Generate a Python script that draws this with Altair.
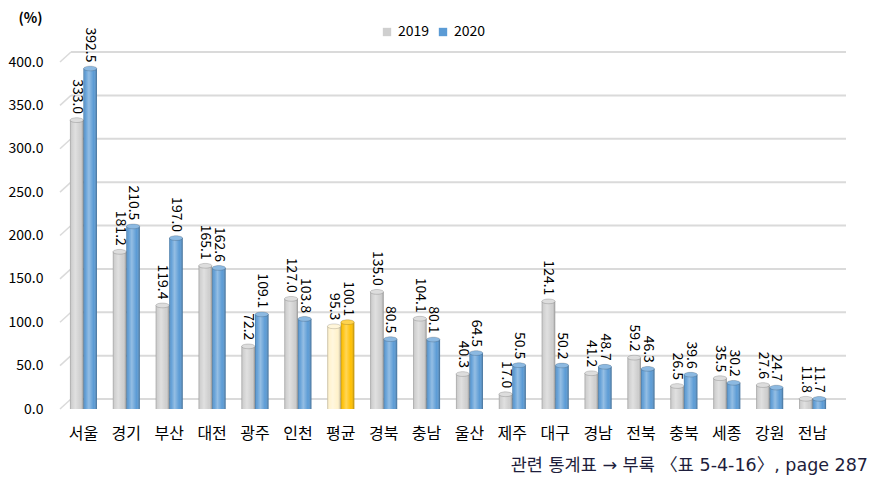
import altair as alt
import pandas as pd

regions = ["서울", "경기", "부산", "대전", "광주", "인천", "평균", "경북", "충남",
           "울산", "제주", "대구", "경남", "전북", "충북", "세종", "강원", "전남"]
v2019 = [333.0, 181.2, 119.4, 165.1, 72.2, 127.0, 95.3, 135.0, 104.1,
         40.3, 17.0, 124.1, 41.2, 59.2, 26.5, 35.5, 27.6, 11.8]
v2020 = [392.5, 210.5, 197.0, 162.6, 109.1, 103.8, 100.1, 80.5, 80.1,
         64.5, 50.5, 50.2, 48.7, 46.3, 39.6, 30.2, 24.7, 11.7]
years = ["2019", "2020"]
y_ticks = [0, 50, 100, 150, 200, 250, 300, 350, 400]
footer = "관련 통계표 → 부록 〈표 5-4-16〉, page 287"

rows = []
for r, a, b in zip(regions, v2019, v2020):
    for yr, v in zip(years, [a, b]):
        key = ("평균" + yr) if r == "평균" else yr
        rows.append({"region": r, "year": yr, "value": v, "key": key})
df = pd.DataFrame(rows)
grid_df = pd.DataFrame({"v": y_ticks})

FONT = "Noto Sans CJK KR"
ELLIPSE = "M -1 0 A 1 0.36 0 1 0 1 0 A 1 0.36 0 1 0 -1 0 Z"

x_enc = alt.X("region:N", sort=regions,
              scale=alt.Scale(paddingInner=0.37, paddingOuter=0.185),
              axis=alt.Axis(title=None, labelAngle=0, ticks=False, domain=False,
                            labelFont=FONT, labelFontSize=16, labelColor="#000000",
                            labelPadding=16))
y_enc = alt.Y("value:Q", scale=alt.Scale(domain=[0, 400], nice=False),
              axis=alt.Axis(values=y_ticks, format=".1f", title="(%)",
                            titleAngle=0, titleX=-32, titleY=-44,
                            titleAlign="center", titleBaseline="middle",
                            titleFont=FONT, titleFontSize=14, titleFontWeight="bold",
                            titleColor="#000000",
                            labelFont=FONT, labelFontSize=14, labelColor="#000000",
                            labelPadding=19, ticks=False, domain=False, grid=False))
xo = alt.XOffset("year:N", sort=years, scale=alt.Scale(paddingInner=0, paddingOuter=0))
x_plain = alt.X("region:N", sort=regions)
xo_plain = alt.XOffset("year:N", sort=years)

color_enc = alt.Color("key:N",
                      scale=alt.Scale(domain=["2019", "2020", "평균2019", "평균2020"],
                                      range=["#cfcfcf", "#5b9bd5", "#fff2cc", "#ffc000"]),
                      legend=alt.Legend(values=["2019", "2020"], title=None,
                                        orient="none", direction="horizontal",
                                        legendX=318, legendY=-37,
                                        symbolType="square", symbolSize=70,
                                        symbolStrokeWidth=0,
                                        labelFont=FONT, labelFontSize=14,
                                        labelColor="#000000", columnPadding=6,
                                        symbolOffset=0))

base = alt.Chart(df)

grid_lines = alt.Chart(grid_df).mark_rule(color="#dadada", strokeWidth=2, yOffset=-10).encode(
    y=alt.Y("v:Q"), x=alt.value(9), x2=alt.value(784))
grid_diag = alt.Chart(grid_df).mark_rule(color="#dadada", strokeWidth=1.5, y2Offset=-10).encode(
    y=alt.Y("v:Q"), y2=alt.Y2("v"), x=alt.value(-2), x2=alt.value(9))

bars = base.mark_bar().encode(x=x_enc, y=y_enc, xOffset=xo, color=color_enc)

shade = base.mark_bar(
    fill=alt.Gradient(gradient="linear", x1=0, x2=1, y1=0, y2=0,
                      stops=[alt.GradientStop(offset=0, color="rgba(0,0,0,0.25)"),
                             alt.GradientStop(offset=0.15, color="rgba(255,255,255,0.05)"),
                             alt.GradientStop(offset=0.4, color="rgba(255,255,255,0.35)"),
                             alt.GradientStop(offset=0.75, color="rgba(255,255,255,0.0)"),
                             alt.GradientStop(offset=1, color="rgba(0,0,0,0.32)")]),
).encode(x=x_plain, y=alt.Y("value:Q"), xOffset=xo_plain)

tops = base.mark_point(shape=ELLIPSE, filled=True, size=175, opacity=1).encode(
    x=x_plain, y=alt.Y("value:Q"), xOffset=xo_plain, color=alt.Color("key:N"))

tops_hl = base.mark_point(shape=ELLIPSE, filled=True, size=175,
                          fill="rgba(255,255,255,0.3)", stroke="rgba(0,0,0,0.2)",
                          strokeWidth=0.8, opacity=1).encode(
    x=x_plain, y=alt.Y("value:Q"), xOffset=xo_plain)

labels = base.mark_text(angle=90, align="right", baseline="middle", dx=-6,
                        font=FONT, fontSize=14, color="#000000").encode(
    x=x_plain, y=alt.Y("value:Q"), xOffset=xo_plain,
    text=alt.Text("value:Q", format=".1f"),
)

foot = alt.Chart(pd.DataFrame({"t": [footer]})).mark_text(
    align="right", baseline="middle", font="DejaVu Sans, Noto Sans CJK KR",
    fontSize=17.5, color="#1e1e3c"
).encode(x=alt.value(806), y=alt.value(404), text="t:N")

chart = alt.layer(grid_lines, grid_diag, bars, shade, tops, tops_hl, labels, foot).properties(
    width=772, height=347,
    autosize=alt.AutoSizeParams(type="none"),
    padding={"left": 62, "top": 62, "right": 57, "bottom": 72},
).configure(background="#ffffff").configure_view(stroke=None)

chart.save("out.html", embed_options={"renderer": "svg", "actions": False})
